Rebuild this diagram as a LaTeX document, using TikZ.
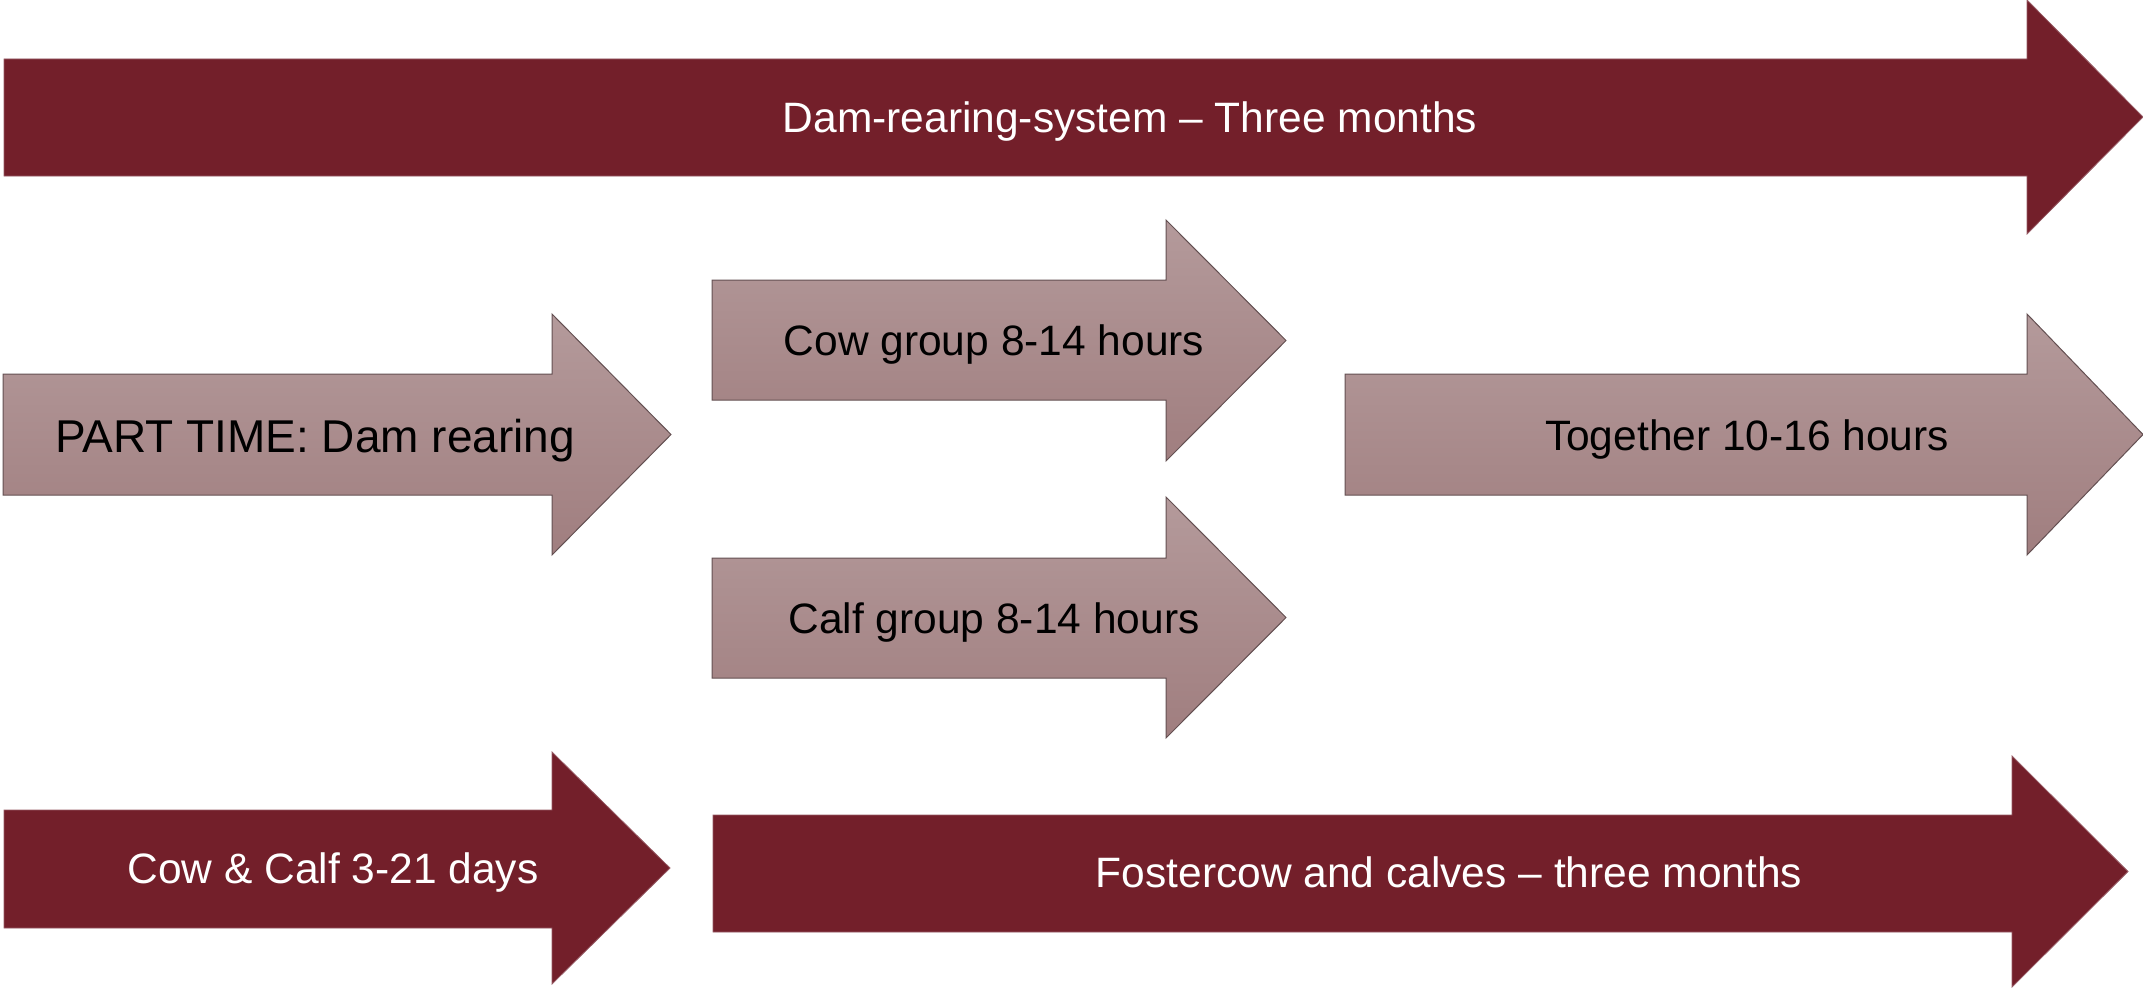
\documentclass[tikz,border=0pt]{standalone}
\usepackage{fontspec}
\setmainfont{Liberation Sans}
\definecolor{maroon}{RGB}{115,31,42}
\definecolor{maroonedge}{RGB}{150,90,100}
\definecolor{lighttop}{RGB}{180,154,155}
\definecolor{lightbot}{RGB}{160,126,127}
\definecolor{lightedge}{RGB}{100,80,82}
\newcommand\arrowshape[7]{(#1,#4) -- (#2,#4) -- (#2,#6) -- (#3,{(#6+#7)/2}) -- (#2,#7) -- (#2,#5) -- (#1,#5) -- cycle}
\tikzset{
  darkarrow/.style={fill=maroon, draw=maroonedge, line width=0.8pt, line join=miter},
  lightarrow/.style={top color=lighttop, bottom color=lightbot, draw=lightedge, line width=1pt, line join=miter},
  lbl/.style={anchor=base, inner sep=0pt, font=\fontsize{42.5pt}{50pt}\selectfont},
  whitelbl/.style={lbl, text=white},
  blacklbl/.style={lbl, text=black}
}
\begin{document}
\begin{tikzpicture}[x=1pt, y=-1pt]
\useasboundingbox (0,0) rectangle (2143,990);
% arrows
\path[darkarrow] \arrowshape{4}{2027}{2143}{59}{176}{0}{234};
\path[lightarrow] \arrowshape{3}{552}{671}{374}{495}{314}{555};
\path[lightarrow] \arrowshape{712}{1166}{1286}{280}{400}{220}{461};
\path[lightarrow] \arrowshape{712}{1166}{1286}{558}{678}{497}{738};
\path[lightarrow] \arrowshape{1345}{2027}{2143}{374}{495}{314}{555};
\path[darkarrow] \arrowshape{4}{552}{670}{810}{928}{752}{984};
\path[darkarrow] \arrowshape{713}{2012}{2128}{815}{932}{756}{987};
% labels
\node[whitelbl] (dam) at (1130,132) {Dam-rearing-system – Three months};
\node[blacklbl, font=\fontsize{46pt}{53pt}\selectfont] (part) at (315,452) {PART TIME: Dam rearing};
\node[blacklbl] (cowgrp) at (994,355) {Cow group 8-14 hours};
\node[blacklbl] (calfgrp) at (994,633) {Calf group 8-14 hours};
\node[blacklbl] (together) at (1747,450) {Together 10-16 hours};
\node[whitelbl] (cowcalf) at (333,883) {Cow \& Calf 3-21 days};
\node[whitelbl] (foster) at (1449,887) {Fostercow and calves – three months};
\end{tikzpicture}
\end{document}
